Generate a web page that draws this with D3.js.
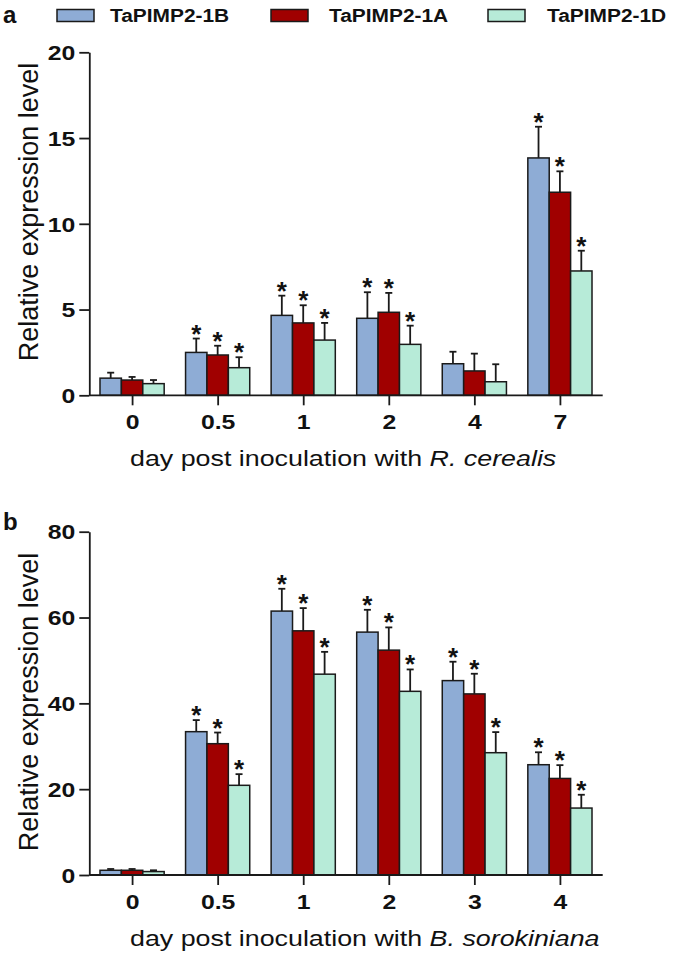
<!DOCTYPE html>
<html><head><meta charset="utf-8">
<script src="https://cdn.jsdelivr.net/npm/d3@7"></script>
<style>body{margin:0;background:#fff}svg{display:block}</style>
</head><body>
<svg id="c" width="675" height="958"></svg>
<script>
const seriesNames = ["TaPIMP2-1B", "TaPIMP2-1A", "TaPIMP2-1D"];
const seriesColors = ["#8EACD5", "#A00000", "#B7EBD8"];

const daysA = ["0", "0.5", "1", "2", "4", "7"];
const a1B = [1.0, 2.5, 4.66, 4.49, 1.84, 13.84];
const a1A = [0.89, 2.35, 4.22, 4.84, 1.42, 11.84];
const a1D = [0.68, 1.61, 3.22, 2.97, 0.79, 7.25];
const a1Berr = [0.32, 0.81, 1.15, 1.52, 0.7, 1.82];
const a1Aerr = [0.18, 0.54, 1.03, 1.13, 1.01, 1.22];
const a1Derr = [0.21, 0.61, 1.0, 1.09, 1.02, 1.18];
const sigA = [false, true, true, true, false, true];
const ticksA = [0, 5, 10, 15, 20];

const daysB = ["0", "0.5", "1", "2", "3", "4"];
const b1B = [1.1, 33.4, 61.5, 56.6, 45.3, 25.7];
const b1A = [1.1, 30.6, 56.9, 52.4, 42.2, 22.5];
const b1D = [0.8, 20.9, 46.8, 42.8, 28.5, 15.6];
const b1Berr = [0.3, 2.7, 5.2, 5.2, 4.4, 2.9];
const b1Aerr = [0.3, 2.6, 5.3, 5.3, 4.7, 3.1];
const b1Derr = [0.3, 2.6, 5.2, 5.1, 4.8, 3.1];
const sigB = [false, true, true, true, true, true];
const ticksB = [0, 20, 40, 60, 80];

const svg = d3.select("#c");
const FONT = "'Liberation Sans', Arial, sans-serif";
const INK = "#1a1a1a";
const SX = 1.24;

// legend
const legX = [57, 271, 488];
const legTextX = [110, 329, 547];
seriesNames.forEach((n, i) => {
  svg.append("rect").attr("x", legX[i]).attr("y", 9.5).attr("width", 37).attr("height", 12)
    .attr("fill", seriesColors[i]).attr("stroke", INK).attr("stroke-width", 1.5);
  svg.append("text").attr("transform", `translate(${legTextX[i]},22) scale(1.1,1)`)
    .attr("font-family", FONT).attr("font-weight", "bold").attr("font-size", 19)
    .attr("fill", "#111").text(n);
});

function panel(opt) {
  const g = svg.append("g");
  const x0 = d3.scaleBand().domain(opt.days).range([89.3, 602.7]).paddingInner(0.25).paddingOuter(0.125);
  const x1 = d3.scaleBand().domain(seriesNames).range([0, x0.bandwidth()]);
  const y = d3.scaleLinear().domain([0, opt.ticks[opt.ticks.length - 1]]).range(opt.yRange);
  const xAxisScale = d3.scalePoint().domain(opt.days).range([89.3 + 42.78, 602.7 - 42.78]);

  const series = [opt.v1B, opt.v1A, opt.v1D];
  const errs = [opt.e1B, opt.e1A, opt.e1D];
  const rows = [];
  opt.days.forEach((d, i) => {
    seriesNames.forEach((s, j) => rows.push({ day: d, s, j, v: series[j][i], e: errs[j][i], sig: opt.sig[i] }));
  });

  // error bars
  const eb = g.append("g").attr("stroke", INK).attr("stroke-width", 1.8);
  rows.forEach(r => {
    const cx = x0(r.day) + x1(r.s) + x1.bandwidth() / 2;
    eb.append("line").attr("x1", cx).attr("x2", cx).attr("y1", y(r.v)).attr("y2", y(r.v + r.e));
    eb.append("line").attr("x1", cx - 3.5).attr("x2", cx + 3.5).attr("y1", y(r.v + r.e)).attr("y2", y(r.v + r.e));
  });
  // bars
  g.append("g").selectAll("rect").data(rows).join("rect")
    .attr("x", r => x0(r.day) + x1(r.s))
    .attr("width", x1.bandwidth())
    .attr("y", r => y(r.v))
    .attr("height", r => y(0) - y(r.v))
    .attr("fill", r => seriesColors[r.j])
    .attr("stroke", INK).attr("stroke-width", 1.5);
  // stars
  g.append("g").selectAll("text").data(rows.filter(r => r.sig)).join("text")
    .attr("x", r => x0(r.day) + x1(r.s) + x1.bandwidth() / 2)
    .attr("y", r => y(r.v + r.e) + 4)
    .attr("text-anchor", "middle").attr("font-family", FONT).attr("font-weight", "bold")
    .attr("font-size", 26).attr("fill", "#111").text("*");

  // y axis
  const ya = g.append("g").attr("transform", "translate(89.3,0)")
    .call(d3.axisLeft(y).tickValues(opt.ticks).tickSize(10).tickSizeOuter(0).tickFormat(d3.format("d")));
  // x axis
  const xa = g.append("g").attr("transform", `translate(0,${opt.yRange[0]})`)
    .call(d3.axisBottom(xAxisScale).tickSize(10).tickSizeOuter(0));
  xa.select(".domain").attr("d", `M89.3,0H602.7`);
  [ya, xa].forEach(a => {
    a.select(".domain").attr("stroke", INK).attr("stroke-width", 1.8);
    a.selectAll(".tick line").attr("stroke", INK).attr("stroke-width", 1.8);
    a.selectAll("text").attr("font-family", FONT).attr("font-weight", "bold").attr("font-size", 20).attr("fill", "#111");
  });
  ya.selectAll("text").attr("x", -14 / SX).attr("dy", "0.36em").attr("transform", `scale(${SX},1)`);
  xa.selectAll("text").attr("y", 34).attr("dy", null).attr("transform", `scale(${SX},1)`);

  // axis titles
  g.append("text").attr("transform", `translate(38,${opt.yTitleY}) rotate(-90)`)
    .attr("text-anchor", "middle").attr("font-family", FONT).attr("font-size", 27).attr("fill", "#111")
    .text("Relative expression level");
  const xt = g.append("text").attr("transform", `translate(130,${opt.yRange[0] + 71}) scale(1.22,1)`)
    .attr("font-family", FONT).attr("font-size", 22).attr("fill", "#111");
  xt.append("tspan").text("day post inoculation with ");
  xt.append("tspan").attr("font-style", "italic").text(opt.species);

  // panel letter
  svg.append("text").attr("x", 3).attr("y", opt.letterY).attr("font-family", FONT)
    .attr("font-weight", "bold").attr("font-size", 24).attr("fill", "#111").text(opt.letter);
}

panel({ days: daysA, v1B: a1B, v1A: a1A, v1D: a1D, e1B: a1Berr, e1A: a1Aerr, e1D: a1Derr,
  sig: sigA, ticks: ticksA, yRange: [395.3, 52.3], yTitleY: 212, species: "R. cerealis", letter: "a", letterY: 22.5 });
panel({ days: daysB, v1B: b1B, v1A: b1A, v1D: b1D, e1B: b1Berr, e1A: b1Aerr, e1D: b1Derr,
  sig: sigB, ticks: ticksB, yRange: [875, 531.7], yTitleY: 702, species: "B. sorokiniana", letter: "b", letterY: 530 });
</script>
</body></html>
